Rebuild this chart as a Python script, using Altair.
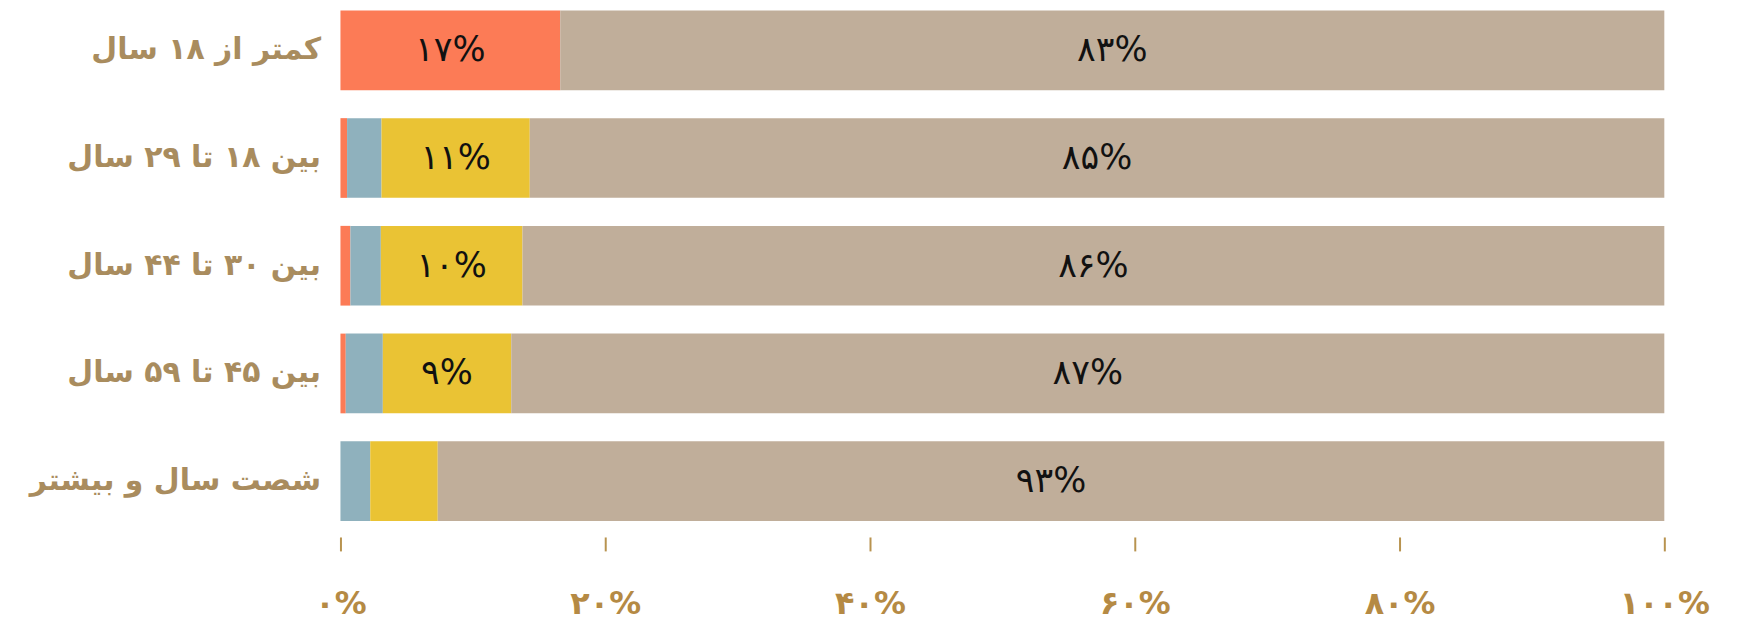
import altair as alt
import pandas as pd

# ---- data ----
age_groups = [
    "کمتر از ۱۸ سال",
    "بین ۱۸ تا ۲۹ سال",
    "بین ۳۰ تا ۴۴ سال",
    "بین ۴۵ تا ۵۹ سال",
    "شصت سال و بیشتر",
]
series = ["s1", "s2", "s3", "s4"]
series_colors = ["#FC7B56", "#8FB1BD", "#EAC334", "#C0AE9A"]

# percent values per series (one entry per age group)
s1_values = [16.6, 0.5, 0.75, 0.4, 0.0]
s2_values = [0.0, 2.6, 2.3, 2.8, 2.25]
s3_values = [0.0, 11.2, 10.7, 9.7, 5.1]
s4_values = [83.4, 85.7, 86.25, 87.1, 92.65]

# labels printed on segments
s1_labels = ["۱۷%", "", "", "", ""]
s2_labels = ["", "", "", "", ""]
s3_labels = ["", "۱۱%", "۱۰%", "۹%", ""]
s4_labels = ["۸۳%", "۸۵%", "۸۶%", "۸۷%", "۹۳%"]

tick_values = [0, 20, 40, 60, 80, 100]
tick_labels = ["۰%", "۲۰%", "۴۰%", "۶۰%", "۸۰%", "۱۰۰%"]

rows = []
for si, (name, vals, labs) in enumerate(zip(series,
                                            [s1_values, s2_values, s3_values, s4_values],
                                            [s1_labels, s2_labels, s3_labels, s4_labels])):
    for g, v, l in zip(age_groups, vals, labs):
        rows.append({"group": g, "series": name, "order": si, "value": v, "label": l})
df = pd.DataFrame(rows)

label_expr = "[" + ",".join("'" + t + "'" for t in tick_labels) + "][round(datum.value/20)]"

y_enc = alt.Y(
    "group:N",
    sort=age_groups,
    scale=alt.Scale(paddingInner=0.26, paddingOuter=0),
    axis=alt.Axis(
        title=None, ticks=False, domain=False, labelPadding=20,
        labelFontSize=30, labelFont="DejaVu Sans", labelFontWeight="bold",
        labelColor="#A98C5E", labelLimit=0,
    ),
)

base = alt.Chart(df)

bars = base.mark_bar().encode(
    x=alt.X(
        "value:Q", stack="zero",
        scale=alt.Scale(domain=[0, 100], nice=False),
        axis=alt.Axis(
            title=None, values=tick_values, labelExpr=label_expr, domain=False,
            grid=False, tickSize=14, tickWidth=2, tickColor="#B8934F", offset=16,
            labelPadding=38, labelFontSize=32, labelFont="DejaVu Sans",
            labelFontWeight="bold", labelColor="#B58A44", labelFlush=False,
        ),
    ),
    y=y_enc,
    color=alt.Color("series:N", scale=alt.Scale(domain=series, range=series_colors), legend=None),
    order=alt.Order("order:Q"),
)

texts = base.transform_stack(
    stack="value", groupby=["group"], sort=[alt.SortField("order")], as_=["x0", "x1"]
).transform_calculate(
    mid="(datum.x0 + datum.x1) / 2"
).transform_filter(
    "datum.label != ''"
).mark_text(
    fontSize=35, font="DejaVu Sans", color="#111111", baseline="middle"
).encode(
    x=alt.X("mid:Q"),
    y=alt.Y("group:N", sort=age_groups),
    text="label:N",
)

chart = (bars + texts).properties(
    width=1330,
    height=513,
    padding={"left": 334, "top": 1, "right": 69, "bottom": 103},
    autosize=alt.AutoSizeParams(type="none"),
    background="white",
).configure_view(stroke=None)

chart.save("out.html", embed_options={"renderer": "svg", "actions": False})
